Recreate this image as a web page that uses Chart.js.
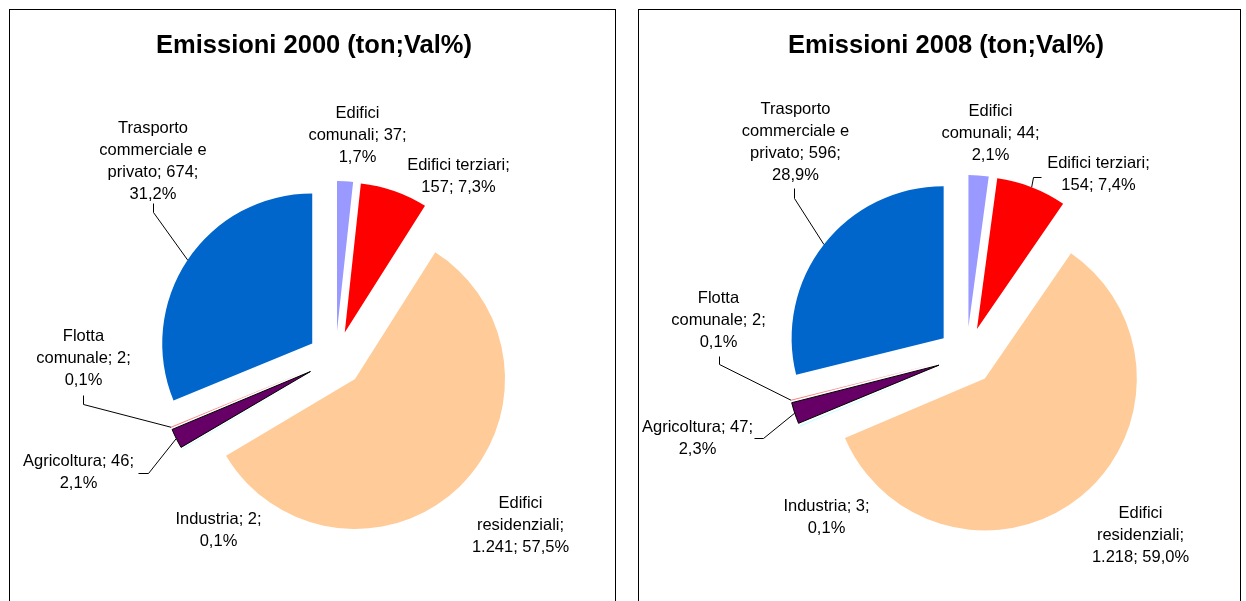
<!DOCTYPE html>
<html lang="it">
<head>
<meta charset="UTF-8">
<title>Emissioni 2000 - 2008</title>
<script src="https://cdn.jsdelivr.net/npm/chart.js@4"></script>
<style>
    html, body { margin: 0; padding: 0; background: #fff; overflow: hidden; }
    .pannello { position: absolute; top: 9px; border: 1px solid #000; background: #fff; }
    #p2000 { left: 9px; width: 605px; height: 660px; }
    #p2008 { left: 638px; width: 601px; height: 660px; }
</style>
</head>
<body>
<div class="pannello" id="p2000"><canvas id="chart2000"></canvas></div>
<div class="pannello" id="p2008"><canvas id="chart2008"></canvas></div>
<script>
// dati (ton)
const categorie = ['Edifici comunali', 'Edifici terziari', 'Edifici residenziali', 'Industria',
                   'Agricoltura', 'Flotta comunale', 'Trasporto commerciale e privato'];
const valori2000 = [37, 157, 1241, 2, 46, 2, 674];
const valori2008 = [44, 154, 1218, 3, 47, 2, 596];
// percentuali come riportate nelle etichette
const perc2000 = [1.7, 7.3, 57.5, 0.1, 2.1, 0.1, 31.2];
const perc2008 = [2.1, 7.4, 59.0, 0.1, 2.3, 0.1, 28.9];
const colori = ['#9999FF', '#FF0000', '#FFCC99', '#CCFFFF', '#660066', '#FF8080', '#0066CC'];

const FONT = '"Liberation Sans", Arial, sans-serif';

function formatta(v) {
    return String(v).replace(/\B(?=(\d{3})+(?!\d))/g, '.');
}

function aCapo(ctx, testo, maxW) {
    const parole = testo.split(' ');
    const righe = [];
    let riga = '';
    parole.forEach(p => {
        const prova = riga ? riga + ' ' + p : p;
        if (riga && ctx.measureText(prova).width > maxW) {
            righe.push(riga);
            riga = p;
        } else {
            riga = prova;
        }
    });
    if (riga) righe.push(riga);
    return righe;
}

// fette staccate dal centro (come in Excel)
const esplodi = {
    id: 'esplodi',
    beforeDatasetDraw(chart, args, opts) {
        const ctx = chart.ctx;
        args.meta.data.forEach(arc => {
            const mid = (arc.startAngle + arc.endAngle) / 2;
            ctx.save();
            ctx.translate(Math.cos(mid) * opts.distanza, Math.sin(mid) * opts.distanza);
            arc.draw(ctx);
            ctx.restore();
        });
        return false;
    }
};

// etichette "nome; valore; %" con linee guida
const etichette = {
    id: 'etichette',
    afterDraw(chart, args, opts) {
        const ctx = chart.ctx;
        const arcs = chart.getDatasetMeta(0).data;
        const valori = chart.data.datasets[0].data;
        ctx.save();
        ctx.font = '16.5px ' + FONT;
        ctx.fillStyle = '#000';
        ctx.strokeStyle = '#000';
        ctx.lineWidth = 1;
        ctx.textAlign = 'center';
        ctx.textBaseline = 'middle';
        arcs.forEach((arc, i) => {
            const cx = arc.x, cy = arc.y;
            const [dx, dy] = opts.posizioni[i];
            const testo = chart.data.labels[i] + '; ' + formatta(valori[i]) + '; ' +
                          opts.perc[i].toFixed(1).replace('.', ',') + '%';
            const righe = aCapo(ctx, testo, 114);
            righe.forEach((r, k) => {
                ctx.fillText(r, cx + dx, cy + dy + (k - (righe.length - 1) / 2) * 22);
            });
            const g = opts.guide[i];
            if (g) {
                const mid = (arc.startAngle + arc.endAngle) / 2;
                const R = arc.outerRadius + opts.distanza;
                ctx.beginPath();
                ctx.moveTo(Math.round(cx + g[0]) + 0.5, Math.round(cy + g[1]) + 0.5);
                ctx.lineTo(Math.round(cx + g[2]) + 0.5, Math.round(cy + g[3]) + 0.5);
                ctx.lineTo(cx + Math.cos(mid) * R, cy + Math.sin(mid) * R);
                ctx.stroke();
            }
        });
        ctx.restore();
    }
};

function creaGrafico(id, titolo, valori, perc, raggio, distanza, padding, posizioni, guide) {
    return new Chart(document.getElementById(id), {
        type: 'pie',
        data: {
            labels: categorie,
            datasets: [{
                data: valori,
                backgroundColor: colori,
                borderColor: ['#fff', '#fff', '#fff', '#fff', '#000', '#fff', '#fff'],
                borderWidth: [0, 0, 0, 0, 1, 0, 0],
                radius: raggio
            }]
        },
        options: {
            responsive: true,
            maintainAspectRatio: false,
            animation: false,
            events: [],
            layout: { padding: padding },
            plugins: {
                legend: { display: false },
                tooltip: { enabled: false },
                title: {
                    display: true,
                    text: titolo,
                    align: 'start',
                    color: '#000',
                    font: { family: FONT, size: 25.5, weight: 'bold' },
                    padding: { top: 21, bottom: 10 }
                },
                esplodi: { distanza: distanza },
                etichette: { distanza: distanza, perc: perc, posizioni: posizioni, guide: guide }
            }
        },
        plugins: [esplodi, etichette]
    });
}

creaGrafico('chart2000', 'Emissioni 2000 (ton;Val%)', valori2000, perc2000, 150, 28,
    { left: 146, right: 100, top: 0, bottom: 23.6 },
    [[22, -224], [123, -183], [185, 166.5], [-117, 171], [-257, 113.5], [-252, -1], [-182.5, -198]],
    [null, null, null, null, [-198, 114, -188, 114], [-253, 36, -253, 45], [-183, -156, -183, -147]]);

creaGrafico('chart2008', 'Emissioni 2008 (ton;Val%)', valori2008, perc2008, 152, 29,
    { left: 149, right: 95, top: 0, bottom: 29.6 },
    [[24, -223], [132, -182], [174, 179], [-140, 161.5], [-269, 82], [-248, -36], [-171, -214]],
    [null, [74, -179, 66, -179], null, null, [-213, 82, -204, 82], [-248, 0, -248, 8], [-173, -168, -173, -158]]);
</script>
</body>
</html>
